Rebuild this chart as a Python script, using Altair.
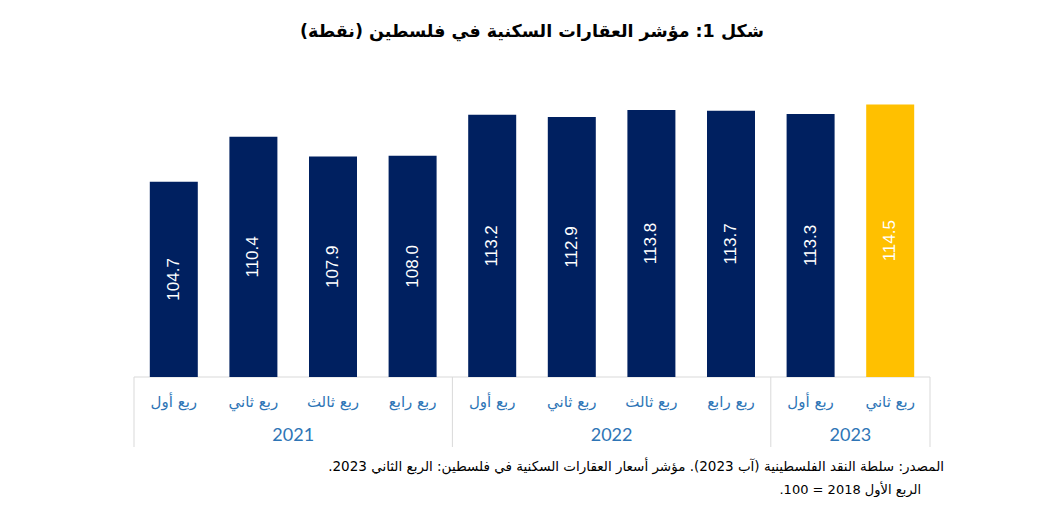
import altair as alt
import pandas as pd

# ---- data ----
years = ["2021", "2021", "2021", "2021", "2022", "2022", "2022", "2022", "2023", "2023"]
quarters = ["ربع أول", "ربع ثاني", "ربع ثالث", "ربع رابع",
            "ربع أول", "ربع ثاني", "ربع ثالث", "ربع رابع",
            "ربع أول", "ربع ثاني"]
values = [104.7, 110.4, 107.9, 108.0, 113.2, 112.9, 113.8, 113.7, 113.3, 114.5]
highlight = ["n"] * 9 + ["y"]

title_text = "شكل 1: مؤشر العقارات السكنية في فلسطين (نقطة)"
source_lines = [
    "المصدر: سلطة النقد الفلسطينية (آب 2023). مؤشر أسعار العقارات السكنية في فلسطين: الربع الثاني 2023.",
    "الربع الأول 2018 = 100.",
]

RLE, PDF = "\u202B", "\u202C"
def rtl(s):
    return RLE + s + PDF

df = pd.DataFrame({
    "idx": list(range(len(values))),
    "year": years,
    "quarter": [rtl(q) for q in quarters],
    "value": values,
    "hl": highlight,
})

# group boundaries (separators) derived from the year groups
bounds = []
for y in dict.fromkeys(years):
    ids = [i for i, yy in enumerate(years) if yy == y]
    bounds.append(min(ids) - 0.5)
bounds.append(len(years) - 0.5)
sep_df = pd.DataFrame({"b": bounds})
span_df = pd.DataFrame({"s": [min(bounds)], "e": [max(bounds)]})

Y_MIN, Y_MAX = 80, 120
xs = alt.Scale(domain=[-0.5, len(values) - 0.5], nice=False, zero=False, padding=0)
ys = alt.Scale(domain=[Y_MIN, Y_MAX], nice=False, zero=False)

ARABIC = "DejaVu Sans"
BLUE = "#2E75B6"

def X(f):
    return alt.X(f, scale=xs, axis=None)

def Y(f):
    return alt.Y(f, scale=ys, axis=None)

base = alt.Chart(df)

bars = base.mark_bar(size=48).encode(
    x=X("idx:Q"),
    y=Y("value:Q"),
    y2=alt.datum(Y_MIN),
    color=alt.Color("hl:N", scale=alt.Scale(domain=["n", "y"], range=["#002060", "#FFC000"]), legend=None),
)

labels = base.transform_calculate(
    mid=f"({Y_MIN} + datum.value) / 2",
    lab="format(datum.value, '.1f')",
).mark_text(angle=270, color="white", font="Liberation Sans", fontSize=17,
            baseline="middle", align="center").encode(
    x=X("idx:Q"),
    y=Y("mid:Q"),
    text="lab:N",
)

qlabels = base.mark_text(font=ARABIC, fontSize=15, color=BLUE, baseline="middle", align="center").encode(
    x=X("idx:Q"),
    y=alt.value(341),
    text="quarter:N",
)

ylabels = base.transform_aggregate(
    mx="mean(idx)", groupby=["year"]
).mark_text(font="Lato", fontSize=18, color=BLUE, baseline="middle", align="center").encode(
    x=X("mx:Q"),
    y=alt.value(375),
    text="year:N",
)

seps = alt.Chart(sep_df).mark_rule(color="#D9D9D9", strokeWidth=1).encode(
    x=X("b:Q"),
    y=alt.value(316),
    y2=alt.value(386),
)

baseline_rule = alt.Chart(span_df).mark_rule(color="#D9D9D9", strokeWidth=1).encode(
    x=X("s:Q"), x2="e:Q", y=alt.value(316),
)

src1 = alt.Chart(pd.DataFrame({"t": [rtl(source_lines[0])]})).mark_text(
    font=ARABIC, fontSize=13.5, color="black", align="right", baseline="middle"
).encode(x=alt.value(810), y=alt.value(406), text="t:N")

src2 = alt.Chart(pd.DataFrame({"t": [rtl(source_lines[1])]})).mark_text(
    font=ARABIC, fontSize=13, color="black", align="right", baseline="middle"
).encode(x=alt.value(787), y=alt.value(429), text="t:N")

chart = alt.layer(seps, baseline_rule, bars, labels, qlabels, ylabels, src1, src2).properties(
    width=796,
    height=316,
    title=alt.Title(rtl(title_text), font=ARABIC, fontSize=17.5, fontWeight="bold",
                    color="black", anchor="middle", offset=21),
    autosize=alt.AutoSizeParams(type="none"),
    padding={"left": 126, "top": 53, "right": 100, "bottom": 120},
    background="white",
).configure_view(stroke=None)

chart.save("out.html", embed_options={"renderer": "svg", "actions": False})
